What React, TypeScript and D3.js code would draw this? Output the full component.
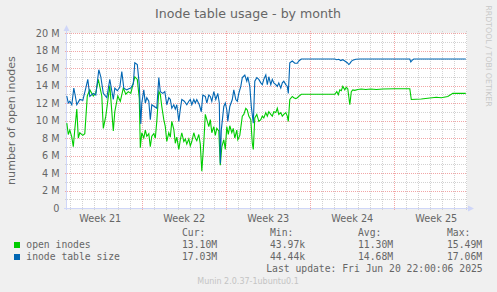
import React from "react";
import * as d3 from "d3";

const title = "Inode table usage - by month";
const yAxisTitle = "number of open inodes";
const weekLabels = ["Week 21", "Week 22", "Week 23", "Week 24", "Week 25"];
const yTickValues = [0, 2, 4, 6, 8, 10, 12, 14, 16, 18, 20];
const seriesNames = ["open inodes", "inode table size"];
const seriesColors = ["#00CC00", "#0066B3"];
const statHeaders = ["Cur:", "Min:", "Avg:", "Max:"];
const openStats = ["13.10M", "43.97k", "11.30M", "15.49M"];
const sizeStats = ["17.03M", "44.44k", "14.68M", "17.06M"];
const lastUpdate = "Last update: Fri Jun 20 22:00:06 2025";
const footer = "Munin 2.0.37-1ubuntu0.1";
const watermark = "RRDTOOL / TOBI OETIKER";

// hours since Monday of week 21, values in millions
const openHours = [
  17, 20, 23, 27, 30, 33, 37, 40, 43, 49, 53, 58, 63, 70, 75, 80, 87, 90, 95, 103, 110, 113, 119, 124, 130, 135, 140, 145, 153, 158, 162, 164, 167,
  171, 174, 177, 181, 184, 187, 191, 194, 197, 201, 204, 207, 211, 214, 217, 221, 224, 227, 231, 234, 237, 241, 244, 247, 251, 254, 257, 261, 264, 267, 271, 274, 277, 281, 284, 287, 291, 294, 297, 301, 304, 307, 311, 314, 317, 321, 324, 327, 331, 334, 337,
  340, 343, 347, 350, 353, 357, 359, 363, 368, 371, 375, 378, 381, 385, 388, 390, 393, 397, 401, 405, 408, 411, 415, 418, 421, 425, 428, 431, 435, 438, 441, 445, 448, 451, 455, 458, 460, 463, 468, 471, 475, 478, 481, 486,
  553, 557, 560, 563, 566, 569, 573, 576, 579, 583, 586, 589, 593, 599, 606, 615, 625, 636, 649, 673, 703, 706, 726, 739, 756, 766, 779, 789, 815,
];
const openValues = [
  9.7, 8.4, 8.9, 8.1, 7.0, 9.0, 11.3, 8.0, 8.6, 8.3, 8.5, 12.8, 13.5, 12.8, 13.2, 14.7, 12.8, 9.1, 10.5, 14.0, 8.8, 11.0, 12.8, 12.2, 13.7, 13.0, 13.3, 13.1, 15.0, 14.7, 12.5, 6.9, 8.6,
  8.0, 8.9, 8.2, 8.5, 7.0, 8.2, 8.5, 8.0, 9.9, 13.3, 13.0, 11.6, 10.1, 9.3, 7.6, 8.6, 8.1, 9.9, 9.0, 7.4, 8.1, 6.7, 7.8, 8.6, 7.6, 7.9, 7.3, 7.9, 7.1, 7.6, 8.6, 8.0, 7.7, 8.4, 7.3, 4.2, 7.5, 10.7, 10.1, 9.3, 10.1, 8.6, 9.3, 8.3, 9.1, 8.8, 4.9, 7.0, 7.8, 6.7, 9.3,
  8.4, 9.4, 8.6, 9.1, 8.0, 8.9, 7.8, 8.3, 10.5, 10.7, 11.4, 11.2, 10.5, 10.1, 7.4, 6.7, 10.3, 10.7, 9.9, 10.1, 10.5, 10.3, 10.9, 10.5, 11.0, 10.7, 10.5, 11.0, 10.9, 11.4, 10.7, 10.9, 10.5, 10.7, 10.9, 10.5, 9.9, 12.4, 12.75, 12.6, 12.5, 12.6, 12.75, 13.0,
  13.0, 13.3, 12.95, 13.5, 13.4, 13.9, 13.5, 13.8, 13.6, 11.8, 13.3, 13.5, 13.45, 13.55, 13.6, 13.55, 13.6, 13.55, 13.6, 13.62, 13.63, 12.4, 12.45, 12.55, 12.65, 12.6, 12.75, 13.1, 13.1,
];
const sizeHours = [
  17, 20, 23, 27, 31, 34, 37, 40, 43, 49, 55, 59, 63, 70, 75, 81, 85, 90, 97, 103, 110, 113, 118, 123, 127, 131, 137, 140, 145, 150, 153, 158, 162, 165, 167,
  171, 174, 177, 181, 184, 187, 192, 197, 201, 204, 209, 213, 217, 221, 224, 227, 231, 234, 237, 241, 244, 247, 252, 257, 261, 264, 267, 271, 274, 277, 282, 286, 289, 294, 297, 301, 304, 307, 311, 315, 319, 322, 324, 326, 331, 334, 337,
  339, 343, 348, 351, 355, 358, 361, 365, 368, 373, 377, 379, 383, 386, 390, 393, 397, 401, 405, 408, 411, 415, 418, 421, 425, 428, 431, 435, 438, 441, 445, 448, 451, 455, 458, 460, 463, 468, 473, 478, 481, 486,
  553, 557, 561, 565, 569, 573, 578, 581, 583, 586, 589, 595, 603, 703, 705, 708, 711, 815,
];
const sizeValues = [
  12.8, 12.0, 12.2, 11.8, 13.7, 12.8, 11.8, 12.1, 12.4, 12.3, 13.7, 14.7, 12.75, 13.1, 12.9, 15.8, 15.0, 13.1, 12.6, 14.7, 12.4, 13.7, 13.4, 13.8, 15.6, 13.7, 13.5, 13.6, 13.7, 14.2, 16.6, 16.4, 14.1, 9.6, 12.0,
  13.5, 12.0, 12.6, 12.2, 10.1, 11.8, 11.6, 11.4, 14.9, 13.3, 13.1, 13.3, 11.8, 12.6, 12.4, 11.4, 11.8, 11.3, 11.8, 9.9, 11.3, 12.4, 12.2, 11.8, 12.2, 12.4, 11.8, 12.4, 12.0, 12.4, 11.8, 11.0, 12.9, 12.75, 12.0, 12.9, 12.75, 12.2, 13.3, 12.4, 13.1, 12.0, 5.1, 8.9, 11.6, 12.0, 11.2,
  9.9, 11.6, 12.4, 13.5, 12.4, 12.2, 13.1, 13.9, 14.9, 15.2, 14.5, 15.0, 13.9, 11.6, 9.7, 14.5, 14.9, 14.7, 14.3, 14.1, 14.7, 15.2, 14.1, 15.0, 14.1, 14.7, 14.3, 14.1, 13.9, 14.3, 13.7, 14.3, 14.5, 14.1, 13.9, 13.1, 16.6, 16.8, 16.55, 16.55, 16.8, 17.03,
  17.03, 16.95, 17.0, 16.85, 16.95, 16.8, 16.6, 16.4, 16.5, 16.75, 16.9, 17.0, 17.03, 17.03, 16.7, 16.9, 17.03, 17.03,
];

const W = 497;
const H = 292;
const plot = { left: 67, right: 467, top: 33, bottom: 208 };
const hoursInWeek = 168;
const domainStart = 17.4;
const domainEnd = 817.4;

const SANS = "'DejaVu Sans', sans-serif";
const MONO = "'DejaVu Sans Mono', monospace";
const TEXT = "#666666";
const MINOR = "#D2D2D2";
const MAJOR = "#F2A6A6";
const AXIS = "#CFD6F8";

export default function App() {
  const x = d3.scaleLinear().domain([domainStart, domainEnd]).range([plot.left, plot.right]);
  const y = d3.scaleLinear().domain([0, 20]).range([plot.bottom, plot.top]);

  const line = d3
    .line<[number, number]>()
    .x((d) => x(d[0]))
    .y((d) => y(d[1]));

  const openPath = line(openHours.map((h, i) => [h, openValues[i]] as [number, number])) || "";
  const sizePath = line(sizeHours.map((h, i) => [h, sizeValues[i]] as [number, number])) || "";

  const minorY = d3.range(1, 20, 2);
  const dayLines = d3.range(24, domainEnd, 24).filter((h) => h > domainStart);
  const snap = (v: number) => Math.round(v) + 0.5;

  const statCols = [182, 270, 358, 447];

  return (
    <svg
      width={W}
      height={H}
      style={{ position: "absolute", left: 0, top: 0, display: "block" }}
      xmlns="http://www.w3.org/2000/svg"
    >
      <rect x={0} y={0} width={W} height={H} fill="#F0F0F0" />
      <rect
        x={plot.left}
        y={plot.top}
        width={plot.right - plot.left}
        height={plot.bottom - plot.top}
        fill="#FFFFFF"
      />

      {/* minor horizontal grid */}
      {minorY.map((v) => (
        <line
          key={"mh" + v}
          x1={plot.left - 2}
          x2={plot.right}
          y1={snap(y(v))}
          y2={snap(y(v))}
          stroke={MINOR}
          strokeDasharray="1,1"
        />
      ))}
      {/* minor vertical grid */}
      {dayLines
        .filter((h) => h % hoursInWeek !== 0)
        .map((h) => (
          <line
            key={"mv" + h}
            x1={snap(x(h))}
            x2={snap(x(h))}
            y1={plot.top - 2}
            y2={plot.bottom + 2}
            stroke={MINOR}
            strokeDasharray="1,1"
          />
        ))}
      {/* major horizontal grid */}
      {yTickValues
        .filter((v) => v > 0)
        .map((v) => (
          <line
            key={"Mh" + v}
            x1={plot.left - 2}
            x2={plot.right}
            y1={snap(y(v))}
            y2={snap(y(v))}
            stroke={MAJOR}
            strokeDasharray="1,1"
          />
        ))}
      {/* major vertical grid */}
      {dayLines
        .filter((h) => h % hoursInWeek === 0)
        .map((h) => (
          <line
            key={"Mv" + h}
            x1={snap(x(h))}
            x2={snap(x(h))}
            y1={plot.top - 2}
            y2={plot.bottom + 2}
            stroke={MAJOR}
            strokeDasharray="1,1"
          />
        ))}

      {/* axes */}
      <line x1={plot.left - 0.5} x2={plot.left - 0.5} y1={plot.bottom + 2} y2={plot.top - 4} stroke={AXIS} />
      <path d={`M${plot.left - 3.5},${plot.top - 2} L${plot.left + 2.5},${plot.top - 2} L${plot.left - 0.5},${plot.top - 8} Z`} fill={AXIS} />
      <line x1={plot.left - 3} x2={plot.right + 3} y1={plot.bottom + 0.5} y2={plot.bottom + 0.5} stroke={AXIS} />
      <path d={`M${plot.right + 1},${plot.bottom - 2.5} L${plot.right + 1},${plot.bottom + 3.5} L${plot.right + 7},${plot.bottom + 0.5} Z`} fill={AXIS} />

      {/* series */}
      <path d={openPath} fill="none" stroke={seriesColors[0]} strokeWidth={1.1} />
      <path d={sizePath} fill="none" stroke={seriesColors[1]} strokeWidth={1.1} />

      {/* y tick labels */}
      {yTickValues.map((v) => (
        <text
          key={"yt" + v}
          x={59.5}
          y={y(v) + 3.5}
          textAnchor="end"
          fontFamily={SANS}
          fontSize={9.7}
          fill={TEXT}
        >
          {v === 0 ? "0" : `${v} M`}
        </text>
      ))}

      {/* week labels */}
      {weekLabels.map((lab, i) => (
        <text
          key={lab}
          x={x(i * hoursInWeek + hoursInWeek / 2)}
          y={221.5}
          textAnchor="middle"
          fontFamily={SANS}
          fontSize={9.7}
          fill={TEXT}
        >
          {lab}
        </text>
      ))}

      {/* title */}
      <text x={248} y={18.3} textAnchor="middle" fontFamily={SANS} fontSize={12.6} fill={TEXT}>
        {title}
      </text>

      {/* y axis title */}
      <text
        transform={`translate(14.5, ${(plot.top + plot.bottom) / 2}) rotate(-90)`}
        textAnchor="middle"
        fontFamily={SANS}
        fontSize={11.1}
        fill={TEXT}
      >
        {yAxisTitle}
      </text>

      {/* watermark */}
      <text
        transform="translate(485.5, 56) rotate(90)"
        textAnchor="middle"
        fontFamily={SANS}
        fontSize={7.9}
        fill="#C8C8C8"
      >
        {watermark}
      </text>

      {/* legend */}
      {statHeaders.map((s, i) => (
        <text key={s} x={statCols[i]} y={235.7} fontFamily={MONO} fontSize={9.72} fill={TEXT}>
          {s}
        </text>
      ))}
      {[openStats, sizeStats].map((row, r) => (
        <g key={"row" + r}>
          <rect x={14} y={242 + r * 12} width={6} height={6} fill={seriesColors[r]} />
          <text x={26.3} y={247.7 + r * 12} fontFamily={MONO} fontSize={9.72} fill={TEXT} style={{ whiteSpace: "pre" }}>
            {seriesNames[r]}
          </text>
          {row.map((s, i) => (
            <text key={i} x={statCols[i]} y={247.7 + r * 12} fontFamily={MONO} fontSize={9.72} fill={TEXT}>
              {s}
            </text>
          ))}
        </g>
      ))}
      <text x={482.7} y={271.7} textAnchor="end" fontFamily={MONO} fontSize={9.72} fill={TEXT} style={{ whiteSpace: "pre" }}>
        {lastUpdate}
      </text>
      <text x={248} y={284} textAnchor="middle" fontFamily={SANS} fontSize={8} fill="#C4C4C4">
        {footer}
      </text>
    </svg>
  );
}
